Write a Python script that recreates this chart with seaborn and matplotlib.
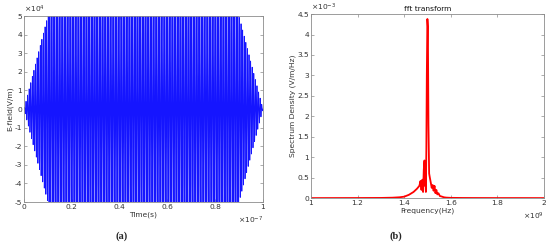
import numpy as np
import pandas as pd
import matplotlib
matplotlib.use("Agg")
import matplotlib.pyplot as plt
import seaborn as sns

# ---- data ----
# (a) envelope of the time signal
env_t = [0.0, 1.0e-8, 9.0e-8, 1.0e-7]        # s
env_amp = [0.0, 5.0e4, 5.0e4, 0.0]            # V/m
carrier_freq = 1.5e9                          # Hz (peak of panel b)

# (b) spectrum
freq = [1.00e9, 1.10e9, 1.20e9, 1.30e9, 1.35e9, 1.38e9, 1.40e9, 1.42e9, 1.44e9,
        1.455e9, 1.465e9, 1.470e9, 1.474e9, 1.478e9, 1.481e9, 1.484e9, 1.487e9,
        1.489e9, 1.491e9, 1.493e9, 1.495e9, 1.497e9, 1.4995e9, 1.5015e9,
        1.504e9, 1.507e9, 1.510e9, 1.514e9, 1.518e9, 1.522e9, 1.526e9,
        1.530e9, 1.534e9, 1.538e9, 1.542e9, 1.547e9, 1.553e9, 1.56e9, 1.57e9,
        1.58e9, 1.60e9, 1.65e9, 1.70e9, 1.80e9, 1.90e9, 2.00e9]
density = [0.000e-3, 0.001e-3, 0.002e-3, 0.004e-3, 0.010e-3, 0.020e-3, 0.035e-3,
           0.080e-3, 0.150e-3, 0.230e-3, 0.300e-3, 0.420e-3, 0.200e-3, 0.450e-3,
           0.150e-3, 0.700e-3, 0.920e-3, 0.300e-3, 0.880e-3, 0.150e-3, 1.200e-3,
           3.000e-3, 4.380e-3, 4.200e-3, 1.800e-3, 0.600e-3, 0.500e-3, 0.380e-3,
           0.250e-3, 0.320e-3, 0.180e-3, 0.300e-3, 0.120e-3, 0.200e-3, 0.090e-3,
           0.120e-3, 0.050e-3, 0.040e-3, 0.020e-3, 0.012e-3, 0.006e-3, 0.003e-3,
           0.002e-3, 0.001e-3, 0.001e-3, 0.000e-3]

xticks_a = ["0", "0.2", "0.4", "0.6", "0.8", "1"]
yticks_a = ["-5", "-4", "-3", "-2", "-1", "0", "1", "2", "3", "4", "5"]
xticks_b = ["1", "1.2", "1.4", "1.6", "1.8", "2"]
yticks_b = ["0", "0.5", "1", "1.5", "2", "2.5", "3", "3.5", "4", "4.5"]

# ---- build time signal from envelope + carrier ----
t = np.linspace(env_t[0], env_t[-1], 24001)
env = np.interp(t, env_t, env_amp)
sig = env * np.sin(2 * np.pi * carrier_freq * t)
df_a = pd.DataFrame({"t": t, "E": sig})
df_b = pd.DataFrame({"f": freq, "S": density})

sns.set_theme(style="white")
plt.rcParams["font.family"] = ["DejaVu Sans"]

fig = plt.figure(figsize=(5.5, 2.47), dpi=100)
axa = fig.add_axes([0.0436, 0.182, 0.4345, 0.753])
axb = fig.add_axes([0.5655, 0.198, 0.4236, 0.745])

fs = 5.4
edge = "#8c8c8c"
tc = "#333333"

sns.lineplot(data=df_a, x="t", y="E", ax=axa, color="#1515ff", lw=0.6,
             estimator=None, sort=False)
axa.set_xlim(0, 1e-7)
axa.set_ylim(-5e4, 5e4)
axa.set_xticks(np.arange(0, 1.01e-7, 0.2e-7))
axa.set_yticks(np.arange(-5e4, 5.01e4, 1e4))
axa.set_xticklabels(xticks_a)
axa.set_yticklabels(yticks_a)
axa.set_xlabel("Time(s)", fontsize=fs, labelpad=1, color=tc)
axa.set_ylabel("E-field(V/m)", fontsize=fs, labelpad=1, color=tc)

sns.lineplot(data=df_b, x="f", y="S", ax=axb, color="#ff0000", lw=1.3,
             estimator=None, sort=False)
axb.axhline(0, color="#bbbbbb", lw=0.6, zorder=0)
axb.set_xlim(1e9, 2e9)
axb.set_ylim(0, 4.5e-3)
axb.set_xticks(np.arange(1e9, 2.01e9, 0.2e9))
axb.set_yticks(np.arange(0, 4.51e-3, 0.5e-3))
axb.set_xticklabels(xticks_b)
axb.set_yticklabels(yticks_b)
axb.set_xlabel("Frequency(Hz)", fontsize=fs, labelpad=1, color=tc)
axb.set_ylabel("Spectrum Density (V/m/Hz)", fontsize=fs, labelpad=1, color=tc)
axb.set_title("fft transform", fontsize=fs, pad=2, color="#111111")

for ax in (axa, axb):
    ax.tick_params(direction="in", length=2, width=0.5, labelsize=fs, pad=1.5,
                   top=True, right=True, bottom=True, left=True,
                   color=edge, labelcolor=tc)
    for s in ax.spines.values():
        s.set_color(edge)
        s.set_linewidth(0.6)
    ax.grid(False)
    ax.set_facecolor("white")

# exponent (offset) labels, MATLAB style
axa.text(0.0, 1.005, r"$\times10^{4}$", transform=axa.transAxes, fontsize=fs,
         color=tc, ha="left", va="bottom")
axa.text(1.0, -0.07, r"$\times10^{-7}$", transform=axa.transAxes, fontsize=fs,
         color=tc, ha="right", va="top")
axb.text(0.0, 1.005, r"$\times10^{-3}$", transform=axb.transAxes, fontsize=fs,
         color=tc, ha="left", va="bottom")
axb.text(1.0, -0.07, r"$\times10^{9}$", transform=axb.transAxes, fontsize=fs,
         color=tc, ha="right", va="top")

fig.text(122 / 550, 1 - 236 / 247, "(a)", fontsize=7.5, fontweight="bold",
         family="Liberation Serif", ha="center", va="center")
fig.text(396 / 550, 1 - 236 / 247, "(b)", fontsize=7.5, fontweight="bold",
         family="Liberation Serif", ha="center", va="center")

fig.savefig("out.png", dpi=100, facecolor="white")
